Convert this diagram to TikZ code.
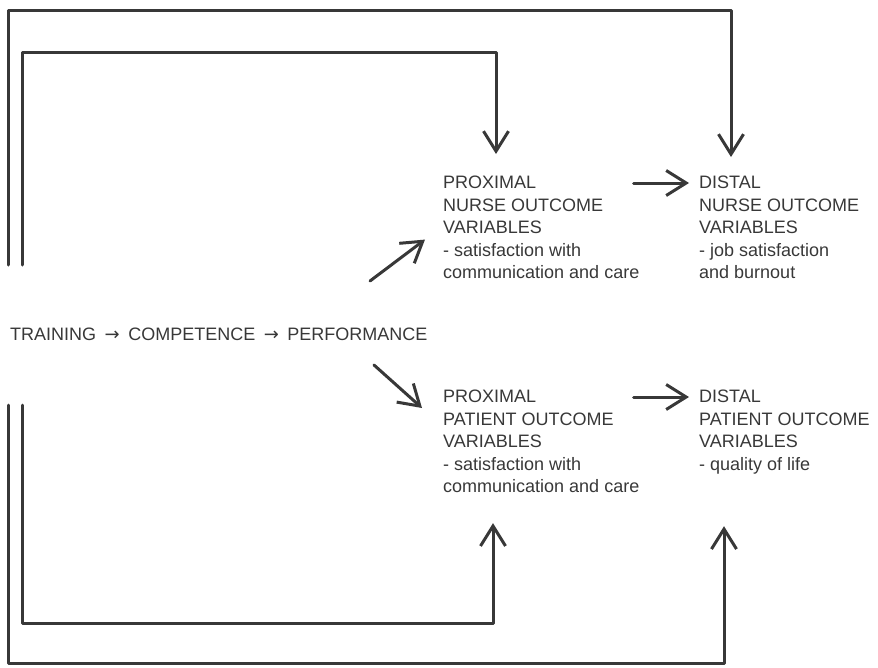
\documentclass[tikz,border=0pt]{standalone}
\usepackage{fontspec}
\setmainfont{Liberation Sans}
\newfontfamily\arrowfont{DejaVu Sans}
\usepackage{tikz}
\usetikzlibrary{arrows.meta}
\definecolor{ink}{HTML}{383838}
\newcommand{\chainarrow}{\hspace{3.5pt}{\arrowfont →}\hspace{3.5pt}}

\begin{document}
\begin{tikzpicture}[x=1pt, y=-1pt,
	conn/.style={ink, line width=3pt, line cap=round, line join=round},
	tip/.style={-{Straight Barb[length=20pt, width=25pt, line width=3pt]}},
	txt/.style={ink, anchor=north west, inner sep=0pt, align=left, font=\fontsize{18}{22.5}\selectfont}]
\useasboundingbox (0,0) rectangle (878,667);
% texts
\node[txt] (chain) at (10,328) {TRAINING \chainarrow\ COMPETENCE \chainarrow\ PERFORMANCE};
\node[txt] (pnurse) at (443,176) {PROXIMAL\\NURSE OUTCOME\\VARIABLES\\- satisfaction with\\communication and care};
\node[txt] (dnurse) at (699,176) {DISTAL\\NURSE OUTCOME\\VARIABLES\\- job satisfaction\\and burnout};
\node[txt] (ppat) at (443,390) {PROXIMAL\\PATIENT OUTCOME\\VARIABLES\\- satisfaction with\\communication and care};
\node[txt] (dpat) at (699,390) {DISTAL\\PATIENT OUTCOME\\VARIABLES\\- quality of life};
% free ends of the loops
\coordinate (outtop) at (8,265);
\coordinate (intop) at (22,265);
\coordinate (outbot) at (8,405);
\coordinate (inbot) at (22,405);
\coordinate (upfrom) at (370,281);
\coordinate (downfrom) at (374,365);
% arrows
\draw[conn, tip] (upfrom) -- ([xshift=-18pt, yshift=-12pt]pnurse.west);
\draw[conn, tip] (downfrom) -- ([xshift=-21pt, yshift=-18pt]ppat.north west);
\draw[conn, tip] ([xshift=-6pt, yshift=-7pt]pnurse.north east) -- ([xshift=-10pt, yshift=-7pt]dnurse.north west);
\draw[conn, tip] ([xshift=-6pt, yshift=-7pt]ppat.north east) -- ([xshift=-10pt, yshift=-7pt]dpat.north west);
\draw[conn, tip] (intop) -- ++(0,-213) -| ([xshift=53pt, yshift=22pt]pnurse.north west);
\draw[conn, tip] (outtop) -- ++(0,-255) -| ([xshift=32pt, yshift=19pt]dnurse.north west);
\draw[conn, tip] (inbot) -- ++(0,218) -| ([xshift=50pt, yshift=-30pt]ppat.south west);
\draw[conn, tip] (outbot) -- ++(0,258) -| ([xshift=25pt, yshift=-52pt]dpat.south west);
\end{tikzpicture}
\end{document}
